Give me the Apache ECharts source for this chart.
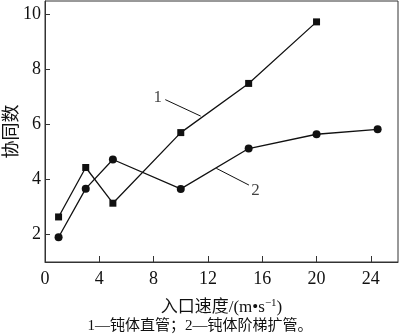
<!DOCTYPE html>
<html><head><meta charset="utf-8">
<script src="https://cdn.jsdelivr.net/npm/echarts@6/dist/echarts.min.js"></script>
<style>html,body{margin:0;padding:0;background:#fff}#c{width:400px;height:336px}</style>
</head><body><div id="c"></div>
<script>
const xTicks = [0, 4, 8, 12, 16, 20, 24];
const yTicks = [2, 4, 6, 8, 10];
const s1x = [1, 3, 5, 10, 15, 20];
const s1y = [2.64, 4.44, 3.14, 5.71, 7.50, 9.74];
const s2x = [1, 3, 5, 10, 15, 20, 24.5];
const s2y = [1.90, 3.67, 4.73, 3.66, 5.13, 5.65, 5.83];
const lead1 = [[8.86, 6.91], [11.47, 6.31]];
const lead2 = [[12.62, 4.41], [15.02, 3.80]];
const lbl1 = [8.3, 6.98];
const lbl2 = [15.5, 3.6];
const yName = '协同数';
const caption = '1—钝体直管；2—钝体阶梯扩管。';

const serif = 'Liberation Serif, Noto Sans CJK SC';
const pair = (xs, ys) => xs.map((x, i) => [x, ys[i]]);
const chart = echarts.init(document.getElementById('c'));
chart.setOption({
  animation: false,
  backgroundColor: '#fff',
  grid: { left: 45, right: 2, top: 1, bottom: 74, show: true, borderColor: '#333', borderWidth: 1,
    containLabel: false, outerBoundsMode: 'none' },
  xAxis: {
    type: 'value', min: 0, max: 26,
    name: '入口速度/(m•s{sup|−1})', nameLocation: 'middle', nameGap: 36, nameMoveOverlap: false,
    nameTextStyle: { fontFamily: serif, fontSize: 17, color: '#111',
      rich: { sup: { fontSize: 11, verticalAlign: 'top', padding: [0,0,8,0], fontFamily: serif, color: '#111' } } },
    axisLine: { lineStyle: { color: '#333' } },
    axisTick: { inside: true, length: 6, customValues: xTicks, lineStyle: { color: '#333' } },
    axisLabel: { customValues: xTicks, fontFamily: serif, fontSize: 18, color: '#111', margin: 8 },
    splitLine: { show: false }
  },
  yAxis: {
    type: 'value', min: 1, max: 10.5,
    name: yName, nameLocation: 'middle', nameGap: 24, nameRotate: 90, nameMoveOverlap: false,
    nameTextStyle: { fontFamily: serif, fontSize: 18, color: '#111' },
    axisLine: { lineStyle: { color: '#333' } },
    axisTick: { inside: true, length: 5, customValues: yTicks, lineStyle: { color: '#333' } },
    axisLabel: { customValues: yTicks, fontFamily: serif, fontSize: 18, color: '#111', margin: 4 },
    splitLine: { show: false }
  },
  graphic: [{ type: 'text', left: 'center', top: 319,
    style: { text: caption, font: '15px ' + serif, fill: '#111' } }],
  series: [
    { type: 'line', data: pair(s1x, s1y), symbol: 'rect', symbolSize: 7,
      lineStyle: { color: '#111', width: 1.3 }, itemStyle: { color: '#111' } },
    { type: 'line', data: pair(s2x, s2y), symbol: 'circle', symbolSize: 8,
      lineStyle: { color: '#111', width: 1.3 }, itemStyle: { color: '#111' } },
    { type: 'line', data: lead1, symbol: 'none', lineStyle: { color: '#111', width: 1 } },
    { type: 'line', data: lead2, symbol: 'none', lineStyle: { color: '#111', width: 1 } },
    { type: 'scatter', symbolSize: 0, data: [{ value: lbl1, label: { formatter: '1' } }, { value: lbl2, label: { formatter: '2' } }],
      label: { show: true, position: 'inside', fontFamily: serif, fontSize: 17, color: '#111' } }
  ]
});
</script></body></html>
